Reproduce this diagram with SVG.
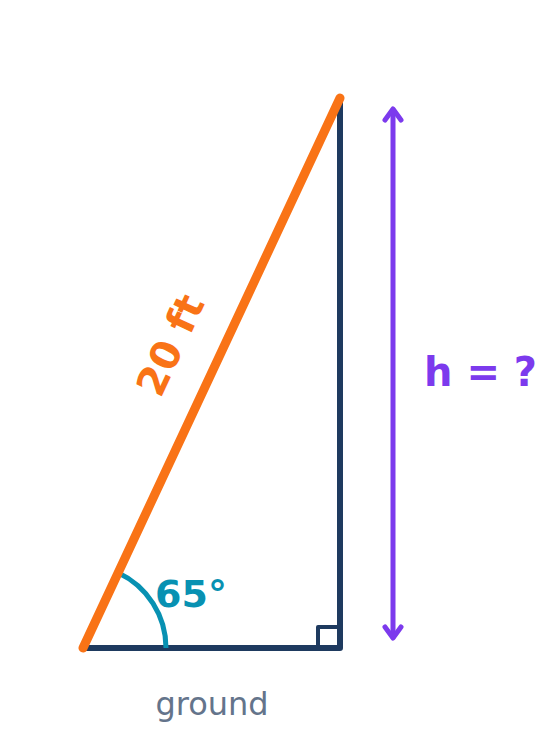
<svg xmlns="http://www.w3.org/2000/svg" width="559" height="755" viewBox="0 0 559 755">
<style>
.t{font-family:"DejaVu Sans",sans-serif;font-weight:bold}
</style>
<rect width="559" height="755" fill="#ffffff"/>
<g id="connectors">
<g id="triangle" fill="none" stroke="#1e3a5f" stroke-width="6" stroke-linecap="round" stroke-linejoin="round">
<path d="M83,648 L340,648 L340,100"/>
<path d="M318,648 L318,627 L340,627" stroke-width="4" stroke-linecap="butt"/>
</g>
<path id="angle-arc" d="M166,648 A83,83 0 0 0 118.1,572.8" fill="none" stroke="#0891b2" stroke-width="5"/>
<line id="hypotenuse" x1="83" y1="648" x2="340" y2="98" stroke="#f97316" stroke-width="9" stroke-linecap="round"/>
<g id="height-arrow" fill="none" stroke="#7c3aed" stroke-width="5" stroke-linecap="round" stroke-linejoin="round">
<line x1="393" y1="110" x2="393" y2="637"/>
<polyline points="385,120 393,109 401,120"/>
<polyline points="385,627 393,638 401,627"/>
</g>
</g>
<g id="label-hyp"><text class="t" x="0" y="0" font-size="40" fill="#f97316" text-anchor="middle" transform="translate(183,351) rotate(-65)">20 ft</text></g>
<g id="label-h"><text class="t" x="424" y="386" font-size="40" fill="#7c3aed">h = ?</text></g>
<g id="label-angle"><text class="t" x="155" y="607" font-size="38" fill="#0891b2">65°</text></g>
<g id="label-ground"><text x="212" y="715" font-size="32" fill="#64748b" text-anchor="middle" font-family="DejaVu Sans, sans-serif">ground</text></g>
</svg>
